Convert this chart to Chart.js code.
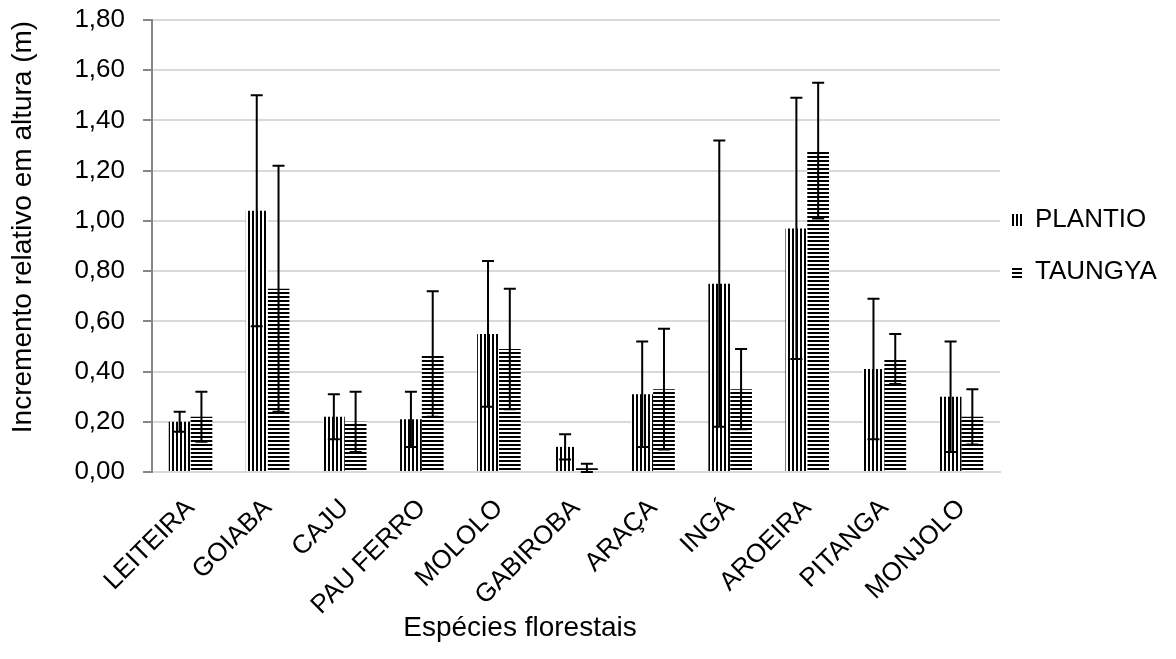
<!DOCTYPE html>
<html>
<head>
<meta charset="utf-8">
<script src="https://cdn.jsdelivr.net/npm/chart.js@4.4.0/dist/chart.umd.min.js"></script>
<style>
  html, body { margin: 0; padding: 0; background: #fff; }
  #grafico { display: block; }
</style>
</head>
<body>
<canvas id="grafico" width="1176" height="659"></canvas>
<script>
// Dados
const especies = ['LEITEIRA', 'GOIABA', 'CAJU', 'PAU FERRO', 'MOLOLO', 'GABIROBA', 'ARAÇA', 'INGÁ', 'AROEIRA', 'PITANGA', 'MONJOLO'];
const plantio = [0.20, 1.04, 0.22, 0.21, 0.55, 0.10, 0.31, 0.75, 0.97, 0.41, 0.30];
const plantioErro = [0.04, 0.46, 0.09, 0.11, 0.29, 0.05, 0.21, 0.57, 0.52, 0.28, 0.22];
const taungya = [0.22, 0.73, 0.20, 0.47, 0.49, 0.015, 0.33, 0.33, 1.28, 0.45, 0.22];
const taungyaErro = [0.10, 0.49, 0.12, 0.25, 0.24, 0.018, 0.24, 0.16, 0.27, 0.10, 0.11];
const ticksY = ['0,00', '0,20', '0,40', '0,60', '0,80', '1,00', '1,20', '1,40', '1,60', '1,80'];
const tituloY = 'Incremento relativo em altura (m)';
const tituloX = 'Espécies florestais';

const fonte = "'Liberation Sans', Arial, sans-serif";
const canvas = document.getElementById('grafico');
const ctx = canvas.getContext('2d');

// hachuras (linhas verticais / horizontais)
function hachura(vertical) {
    const c = document.createElement('canvas');
    c.width = 4; c.height = 4;
    const g = c.getContext('2d');
    g.fillStyle = '#fff';
    g.fillRect(0, 0, 4, 4);
    g.fillStyle = '#000';
    if (vertical) g.fillRect(0, 0, 2, 4);
    else g.fillRect(0, 0, 4, 2);
    return ctx.createPattern(c, 'repeat');
}

// barras de erro
const barrasErro = {
    id: 'barrasErro',
    afterDatasetsDraw(chart) {
        const c = chart.ctx;
        const y = chart.scales.y;
        c.save();
        c.strokeStyle = '#000';
        c.lineWidth = 2;
        chart.data.datasets.forEach((ds, d) => {
            chart.getDatasetMeta(d).data.forEach((barra, i) => {
                const v = ds.data[i], e = ds.erros[i];
                const yTopo = y.getPixelForValue(v + e);
                const yBase = y.getPixelForValue(Math.max(0, v - e));
                c.beginPath();
                c.moveTo(barra.x, yTopo); c.lineTo(barra.x, yBase);
                c.moveTo(barra.x - 6, yTopo); c.lineTo(barra.x + 6, yTopo);
                c.moveTo(barra.x - 6, yBase); c.lineTo(barra.x + 6, yBase);
                c.stroke();
            });
        });
        c.restore();
    }
};

// títulos dos eixos
const titulos = {
    id: 'titulos',
    afterDraw(chart) {
        const c = chart.ctx;
        c.save();
        c.fillStyle = '#000';
        c.font = '28px ' + fonte;
        c.textAlign = 'center';
        c.textBaseline = 'middle';
        c.fillText(tituloX, 520, 628);
        c.translate(23, 227);
        c.rotate(-Math.PI / 2);
        c.fillText(tituloY, 0, 0);
        c.restore();
    }
};

// largura fixa da legenda e deslocamento para perto do gráfico
const ajusteLegenda = {
    id: 'ajusteLegenda',
    beforeUpdate(chart) {
        if (chart.legend && !chart.legend._ajustada) {
            const fit = chart.legend.fit;
            chart.legend.fit = function () {
                fit.call(this);
                this.width = 176;
            };
            chart.legend._ajustada = true;
        }
    },
    afterLayout(chart) {
        if (chart.legend) chart.legend.left = chart.chartArea.right - 14;
    }
};

new Chart(ctx, {
    type: 'bar',
    data: {
        labels: especies,
        datasets: [{
            label: 'PLANTIO',
            data: plantio,
            erros: plantioErro,
            backgroundColor: hachura(true),
            borderWidth: 0
        }, {
            label: 'TAUNGYA',
            data: taungya,
            erros: taungyaErro,
            backgroundColor: hachura(false),
            borderWidth: 0
        }]
    },
    options: {
        responsive: false,
        animation: false,
        devicePixelRatio: 1,
        categoryPercentage: 0.565,
        barPercentage: 1.0,
        layout: {
            padding: { top: 20, left: 0, right: 0, bottom: 0 }
        },
        plugins: {
            legend: {
                position: 'right',
                fullSize: false,
                align: 'center',
                labels: {
                    boxWidth: 10,
                    boxHeight: 12,
                    padding: 26,
                    color: '#000',
                    font: { family: fonte, size: 26 }
                }
            },
            tooltip: { enabled: false }
        },
        scales: {
            x: {
                grid: { display: false },
                border: { display: true, color: '#d9d9d9', width: 2 },
                ticks: {
                    color: '#000',
                    font: { family: fonte, size: 26 },
                    minRotation: 45,
                    maxRotation: 45,
                    padding: 13
                },
                afterFit(scale) { scale.height = 187; }
            },
            y: {
                min: 0,
                max: 1.8,
                ticks: {
                    stepSize: 0.2,
                    color: '#000',
                    font: { family: fonte, size: 26 },
                    padding: 18,
                    callback: (v, i) => ticksY[i]
                },
                grid: {
                    color: '#d9d9d9',
                    lineWidth: 2,
                    tickColor: '#868686',
                    tickLength: 9
                },
                border: { display: true, color: '#868686', width: 2 },
                afterFit(scale) {
                    scale.width = 152;
                    scale.paddingTop = 0;
                    scale.paddingBottom = 0;
                }
            }
        }
    },
    plugins: [barrasErro, titulos, ajusteLegenda]
});
</script>
</body>
</html>
